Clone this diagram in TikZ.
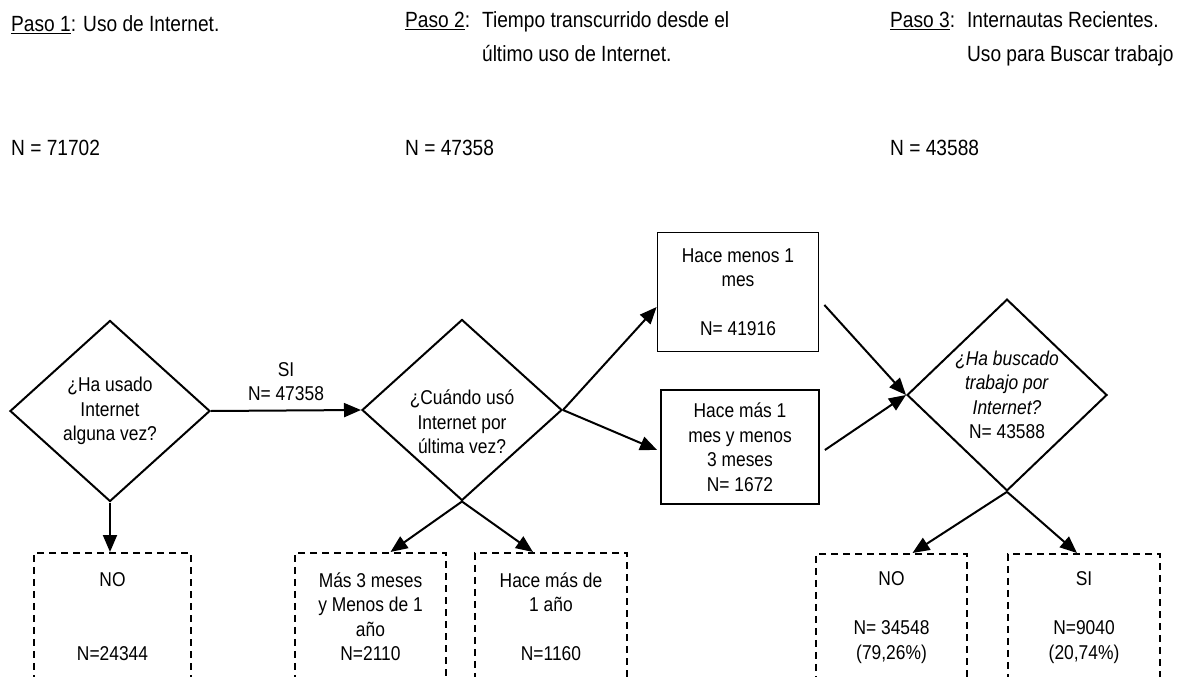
\documentclass[tikz,border=0pt]{standalone}
\usepackage{fontspec}
\setmainfont{Liberation Sans}[FakeStretch=0.87]
\usetikzlibrary{shapes.geometric,arrows.meta,calc}
\newcommand\flowfont{\fontsize{20}{24.5}\selectfont}
\newcommand\headfont{\fontsize{22}{34}\selectfont}

\begin{document}
\begin{tikzpicture}[x=1pt, y=-1pt, font=\flowfont,
  decision/.style={diamond, draw, line width=2pt, minimum width=200pt, minimum height=181pt, inner sep=0pt, align=center},
  stepbox/.style={rectangle, draw, line width=1.8pt, align=center},
  endbox/.style={rectangle, draw, dash pattern=on 7pt off 5pt, line width=1.6pt, minimum height=128pt, anchor=north, align=center},
  flow/.style={-{Triangle[length=17pt,width=14pt]}, line width=2pt},
  heading/.style={anchor=base west, inner sep=0pt, font=\headfont}]
\clip (0,0) rectangle (1179,677);

\node[heading] (paso1) at (11,32) {\underline{Paso 1}: Uso de Internet.};
\node[heading] (paso2) at (405,28) {\begin{tabular}[t]{@{}l@{\hspace{12pt}}l@{}}\underline{Paso 2}: & Tiempo transcurrido desde el\\ & último uso de Internet.\end{tabular}};
\node[heading] (paso3) at (890,28) {\begin{tabular}[t]{@{}l@{\hspace{12pt}}l@{}}\underline{Paso 3}: & Internautas Recientes.\\ & Uso para Buscar trabajo\end{tabular}};
\node[heading] (n1) at (11,155) {N = 71702};
\node[heading] (n2) at (405,155) {N = 47358};
\node[heading] (n3) at (890,155) {N = 43588};

\node[decision] (d1) at (110,411) {¿Ha usado\\Internet\\alguna vez?};
\node[decision, label={[align=center, yshift=-12pt]center:{¿Cuándo usó\\Internet por\\última vez?}}] (d2) at (462,410) {};
\node[decision] (d3) at (1007,395) {\textit{¿Ha buscado}\\\textit{trabajo por}\\\textit{Internet?}\\N= 43588};

\node[stepbox, minimum width=161pt, minimum height=119pt] (menos1) at (738,292) {Hace menos 1\\mes\\[24.5pt]N= 41916};
\node[stepbox, minimum width=158pt, minimum height=114pt] (mas1) at (740,447) {Hace más 1\\mes y menos\\3 meses\\N= 1672};

\node[endbox, minimum width=157pt] (no1) at (112.5,552) {NO\\[49pt]N=24344};
\node[endbox, minimum width=151pt] (mas3) at (370.5,552) {Más 3 meses\\y Menos de 1\\año\\N=2110};
\node[endbox, minimum width=152pt] (anio) at (551,552) {Hace más de\\1 año\\[24.5pt]N=1160};
\node[endbox, minimum width=151pt] (no3) at (891.5,553) {NO\\[24.5pt]N= 34548\\(79,26\%)};
\node[endbox, minimum width=152pt] (si3) at (1084,553) {SI\\[24.5pt]N=9040\\(20,74\%)};

\draw[flow] (d1.east) -- node[above=5pt, align=center] {SI\\N= 47358} (d2.west);
\draw[flow] (d1.south) -- (d1.south |- no1.north);
\draw[flow] (d2.east) -- ($(menos1.west)+(0,15)$);
\draw[flow] (d2.east) -- ($(mas1.west)+(-3,3)$);
\draw[flow] (d2.south) -- ($(mas3.north)+(20,0)$);
\draw[flow] (d2.south) -- ($(anio.north)+(-18,0)$);
\draw[flow] ($(menos1.east)+(5,13)$) -- (d3.west);
\draw[flow] ($(mas1.east)+(5,3)$) -- (d3.west);
\draw[flow] (d3.south) -- ($(no3.north)+(21,0)$);
\draw[flow] (d3.south) -- ($(si3.north)+(-7,0)$);
\end{tikzpicture}
\end{document}
